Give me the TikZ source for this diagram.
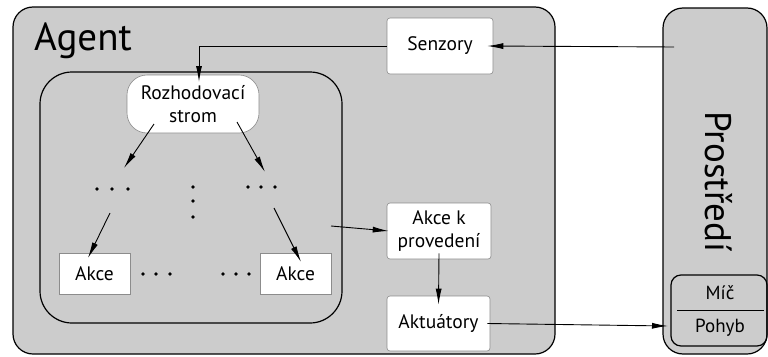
\documentclass[tikz,border=0pt]{standalone}
\usepackage{fontspec}
\setmainfont{PT Sans}
\usetikzlibrary{arrows.meta,calc}
\definecolor{panel}{HTML}{CCCCCC}
\definecolor{edge}{HTML}{8C8C8C}
\begin{document}
\begin{tikzpicture}[x=1pt,y=-1pt,
  frame/.style={draw=black,line width=1.2pt,fill=panel},
  box/.style={draw=edge,fill=white,line width=0.6pt,align=center,inner sep=0pt,
    font=\fontsize{19.5}{23}\selectfont},
  flow/.style={-{Latex[length=16pt,width=6pt]},line width=0.9pt},
  dotmark/.style={fill=black},
]
\useasboundingbox (0,0) rectangle (768,356);

% agent panel and environment panel
\draw[frame,rounded corners=20pt] (13,7) rectangle (555,354);
\draw[frame,rounded corners=20pt] (663,8) rectangle (767,354);
\node[anchor=base west,font=\fontsize{39}{42}\selectfont,inner sep=0pt] (agent) at (34,50) {Agent};
\node[rotate=-90,font=\fontsize{37}{40}\selectfont,inner sep=0pt] (env) at (719,182) {Prostředí};

% decision region
\draw[draw=black,line width=1.2pt,rounded corners=32pt] (40,72) rectangle (342,323);

% boxes
\node[box,rounded corners=20pt,minimum width=132pt,minimum height=58pt] (tree) at (193,104) {Rozhodovací\\strom};
\node[box,rounded corners=3pt,minimum width=106pt,minimum height=56pt] (sens) at (440,46) {Senzory};
\node[box,rounded corners=3pt,minimum width=104pt,minimum height=56pt] (todo) at (439,231) {Akce k\\provedení};
\node[box,rounded corners=3pt,minimum width=103pt,minimum height=55pt] (act) at (438.5,323.5) {Aktuátory};
\node[box,minimum width=71pt,minimum height=41pt] (akceL) at (94.5,273.5) {Akce};
\node[box,minimum width=71pt,minimum height=41pt] (akceR) at (295.5,273.5) {Akce};

% environment sub-box
\draw[draw=black,line width=1.2pt,rounded corners=10pt] (671,275) rectangle (767,346);
\draw[line width=0.8pt] (677,310) -- (764,310);
\node[font=\fontsize{19}{22}\selectfont] (mic) at (720,293) {Míč};
\node[font=\fontsize{19}{22}\selectfont] (pohyb) at (720,328) {Pohyb};

% dot groups
\foreach \x in {97,112,128} \fill[dotmark] (\x,189) circle (1.8);
\foreach \x in {248,261,275} \fill[dotmark] (\x,187) circle (1.8);
\foreach \y in {187,201,217} \fill[dotmark] (193,\y) circle (1.8);
\foreach \x in {143,156,170} \fill[dotmark] (\x,274) circle (1.8);
\foreach \x in {223,236,249} \fill[dotmark] (\x,274) circle (1.8);

% connector end points
\coordinate (envOut) at (674,47);
\coordinate (treeL) at (154,124);
\coordinate (treeR) at (237,122);
\coordinate (dotsL) at (124,168);
\coordinate (dotsR) at (265,172);
\coordinate (dotsLb) at (110,213);
\coordinate (dotsRb) at (274,208);
\coordinate (akceLin) at (88,258);
\coordinate (akceRin) at (301,262);
\coordinate (regionOut) at (331,226);
\coordinate (treeIn) at (199,82);
\coordinate (envIn) at (668,326);

% connectors
\draw[flow] (envOut) -- ([xshift=-6pt]sens.east);
\draw[flow] (sens.west) -| (treeIn);
\draw[flow] (treeL) -- (dotsL);
\draw[flow] (treeR) -- (dotsR);
\draw[flow] (dotsLb) -- (akceLin);
\draw[flow] (dotsRb) -- (akceRin);
\draw[flow] (regionOut) -- ([xshift=2pt]todo.west);
\draw[flow] ([yshift=6pt]todo.south) -- ([yshift=-9pt]act.north);
\draw[flow] ([xshift=-3pt]act.east) -- (envIn);
\end{tikzpicture}
\end{document}
